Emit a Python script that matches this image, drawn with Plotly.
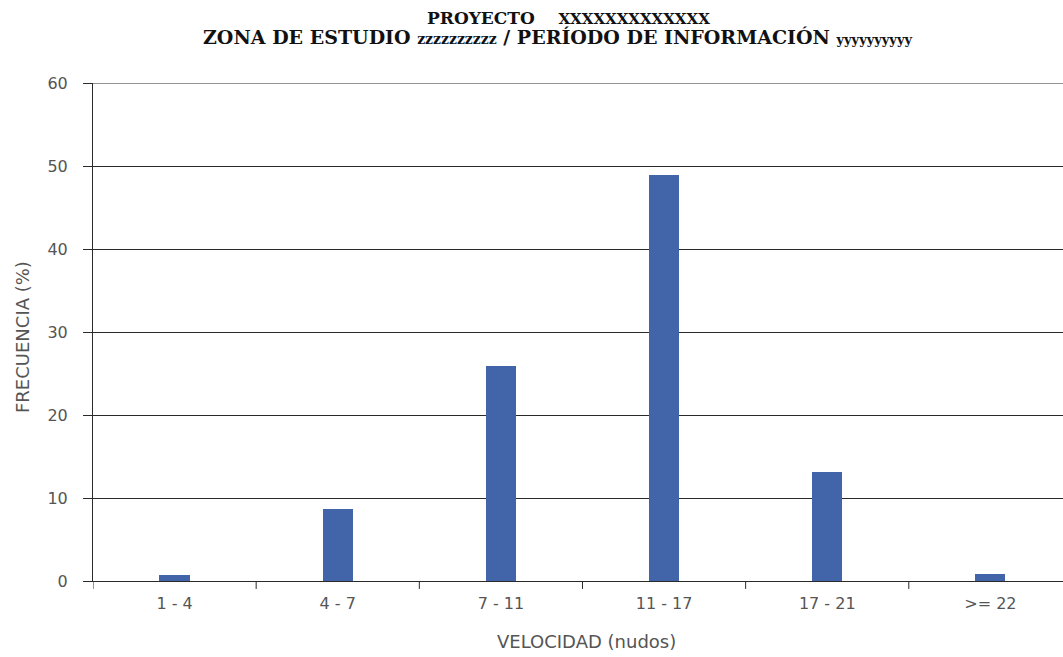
import plotly.graph_objects as go

# Wind speed classes and their frequency of occurrence
categorias = ["1 - 4", "4 - 7", "7 - 11", "11 - 17", "17 - 21", ">= 22"]
frecuencia = [0.7, 8.7, 25.9, 48.9, 13.1, 0.8]
y_ticks = [0, 10, 20, 30, 40, 50, 60]

BAR_COLOR = "#4165A8"
GRID_COLOR = "#2a2a2a"
TEXT_COLOR = "#555555"
SANS = "DejaVu Sans, Arial, sans-serif"
SERIF = "DejaVu Serif, Times New Roman, serif"

fig = go.Figure()
fig.add_trace(go.Bar(
    x=list(range(len(categorias))),
    y=frecuencia,
    width=0.185,
    marker=dict(color=BAR_COLOR, line=dict(width=0)),
    hoverinfo="x+y",
))

fig.update_layout(
    width=1063,
    height=657,
    margin=dict(l=93, r=0, t=83, b=76),
    paper_bgcolor="white",
    plot_bgcolor="white",
    showlegend=False,
    bargap=0,
    font=dict(family=SANS, size=16, color=TEXT_COLOR),
    xaxis=dict(
        range=[-0.5, 5.445],
        tickmode="array",
        tickvals=list(range(len(categorias))),
        ticktext=categorias,
        ticks="",
        ticklabelstandoff=8,
        showgrid=False,
        zeroline=False,
        showline=True,
        linecolor=GRID_COLOR,
        linewidth=1,
        tickfont=dict(family=SANS, size=16, color=TEXT_COLOR),
    ),
    yaxis=dict(
        range=[0, 60],
        tickvals=y_ticks,
        ticks="outside",
        ticklen=9,
        tickcolor=GRID_COLOR,
        tickwidth=1,
        ticklabelstandoff=12,
        showgrid=True,
        gridcolor=GRID_COLOR,
        gridwidth=1,
        zeroline=False,
        showline=True,
        linecolor=GRID_COLOR,
        linewidth=1,
        tickfont=dict(family=SANS, size=16, color=TEXT_COLOR),
    ),
)

# Top border line at 60 %
fig.add_shape(type="line", xref="paper", yref="y", x0=0, x1=1, y0=60, y1=60,
              line=dict(color=GRID_COLOR, width=1))

# Category-boundary ticks below the x axis
for i in range(len(categorias)):
    fig.add_shape(type="line", xref="x", yref="paper",
                  x0=i - 0.5, x1=i - 0.5, y0=0, y1=-0.016,
                  line=dict(color=GRID_COLOR, width=1))

# Axis titles
fig.add_annotation(text="VELOCIDAD (nudos)", xref="paper", yref="paper",
                   x=0.5, xshift=8, y=0, yshift=-60, yanchor="middle", showarrow=False,
                   font=dict(family=SANS, size=18, color=TEXT_COLOR))
fig.add_annotation(text="FRECUENCIA (%)", xref="paper", yref="paper",
                   x=0, xshift=-71, y=0.5, yshift=-5, xanchor="center", yanchor="middle",
                   textangle=-90, showarrow=False,
                   font=dict(family=SANS, size=18, color=TEXT_COLOR))

# Two-line serif heading
fig.add_annotation(
    text="<b>PROYECTO&nbsp;&nbsp;&nbsp;&nbsp;<span style='font-size:15px'>XXXXXXXXXXXXX</span></b>",
    xref="paper", yref="paper", x=0.49, y=1.0, yshift=65, yanchor="middle",
    showarrow=False,
    font=dict(family=SERIF, size=17, color="#111111"),
)
fig.add_annotation(
    text="<b>ZONA DE ESTUDIO <span style='font-size:14px'>zzzzzzzzzz</span> / PERÍODO DE INFORMACIÓN <span style='font-size:13px'>yyyyyyyyyy</span></b>",
    xref="paper", yref="paper", x=0.479, y=1.0, yshift=46, yanchor="middle",
    showarrow=False,
    font=dict(family=SERIF, size=19, color="#111111"),
)

fig.write_html("out.html")
